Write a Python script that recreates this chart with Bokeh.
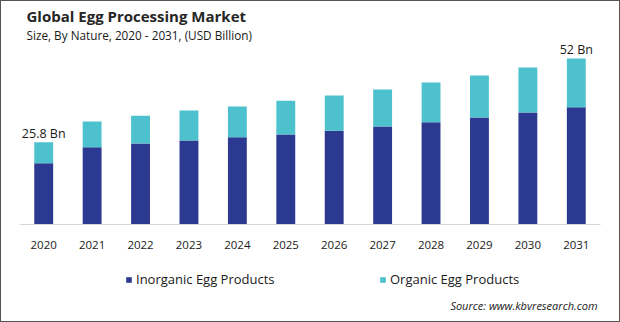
from bokeh.plotting import figure
from bokeh.layouts import column
from bokeh.models import (ColumnDataSource, Legend, LegendItem, Title, Label,
                          Range1d, FactorRange)
from bokeh.embed import file_html
from bokeh.resources import INLINE
from bokeh.core.properties import value

years = [str(y) for y in range(2020, 2032)]
inorganic = [19.2, 24.2, 25.4, 26.3, 27.3, 28.2, 29.4, 30.7, 32.0, 33.5, 35.1, 36.7]
organic = [6.6, 8.1, 8.7, 9.4, 9.7, 10.6, 11.0, 11.6, 12.5, 13.2, 14.1, 15.3]
series = ["Inorganic Egg Products", "Organic Egg Products"]
fields = ["inorganic", "organic"]
colors = ["#2B3990", "#4DC2CE"]
end_labels = ["25.8 Bn", "52 Bn"]

FONT = "Open Sans"
TXT = "#1a1a1a"
totals = [a + b for a, b in zip(inorganic, organic)]

src = ColumnDataSource(dict(year=years, inorganic=inorganic, organic=organic))
xr = FactorRange(*years)

# ---- main chart -------------------------------------------------------
p = figure(width=618, height=258, x_range=xr,
           y_range=Range1d(0, 57.64), output_backend="svg",
           toolbar_location=None, y_axis_location=None,
           min_border_left=18, min_border_right=19,
           min_border_top=39, min_border_bottom=35)
p.grid.visible = False
p.outline_line_color = None

rs = p.vbar_stack(fields, x="year", width=0.39,
                  color=colors, line_color=None, source=src)

lab_src = ColumnDataSource(dict(x=[years[0], years[-1]],
                                y=[totals[0], totals[-1]],
                                t=end_labels))
p.text(x="x", y="y", text="t", source=lab_src, text_align="center",
       text_baseline="alphabetic", y_offset=-9,
       text_font=value(FONT), text_font_size="12.5px", text_color=TXT)

ax = p.xaxis[0]
ax.axis_line_color = "#d9d9d9"
ax.major_tick_line_color = None
ax.minor_tick_line_color = None
ax.major_tick_out = 0
ax.major_tick_in = 0
ax.major_label_standoff = 16
ax.major_label_text_font = FONT
ax.major_label_text_font_size = "11.5px"
ax.major_label_text_color = TXT

p.add_layout(Title(text="Size, By Nature, 2020 - 2031, (USD Billion)",
                   align="left", offset=7, standoff=-4, text_font=FONT,
                   text_font_size="11.75px", text_font_style="normal",
                   text_color=TXT), "above")
p.add_layout(Title(text="Global Egg Processing Market", align="left",
                   offset=7, standoff=2, text_font=FONT,
                   text_font_size="15px", text_font_style="bold",
                   text_color="#262626"), "above")

# ---- footer: legend + source -------------------------------------------
f = figure(width=618, height=62, x_range=xr, y_range=Range1d(0, 1),
           output_backend="svg", toolbar_location=None,
           x_axis_location=None, y_axis_location=None,
           min_border_left=18, min_border_right=19,
           min_border_top=0, min_border_bottom=0)
f.grid.visible = False
f.outline_line_color = None

for name, fld, c, xloc in zip(series, fields, colors, [106, 360]):
    # hidden swatch renderer (same data) used only for the legend glyph
    r = f.vbar(x="year", top=fld, width=0.39, color=c, line_color=None,
               source=src, visible=False)
    lg = Legend(items=[LegendItem(label=name, renderers=[r])],
                location=(xloc, 33), orientation="horizontal",
                click_policy="none",
                padding=0, margin=0, glyph_width=7, glyph_height=7,
                label_height=16, label_standoff=4,
                label_text_font=FONT, label_text_font_size="13px",
                label_text_color=TXT,
                border_line_color=None, background_fill_alpha=0)
    f.add_layout(lg, "center")

f.add_layout(Label(x=578, y=16, x_units="screen", y_units="screen",
                   text="Source: www.kbvresearch.com", text_font=FONT,
                   text_font_size="11px", text_font_style="italic",
                   text_color=TXT, text_align="right",
                   text_baseline="alphabetic"))

lay = column(p, f, width=620, height=322, spacing=0,
             styles={"border": "1px solid #555555"})

open("out.html", "w").write(file_html(lay, INLINE))
